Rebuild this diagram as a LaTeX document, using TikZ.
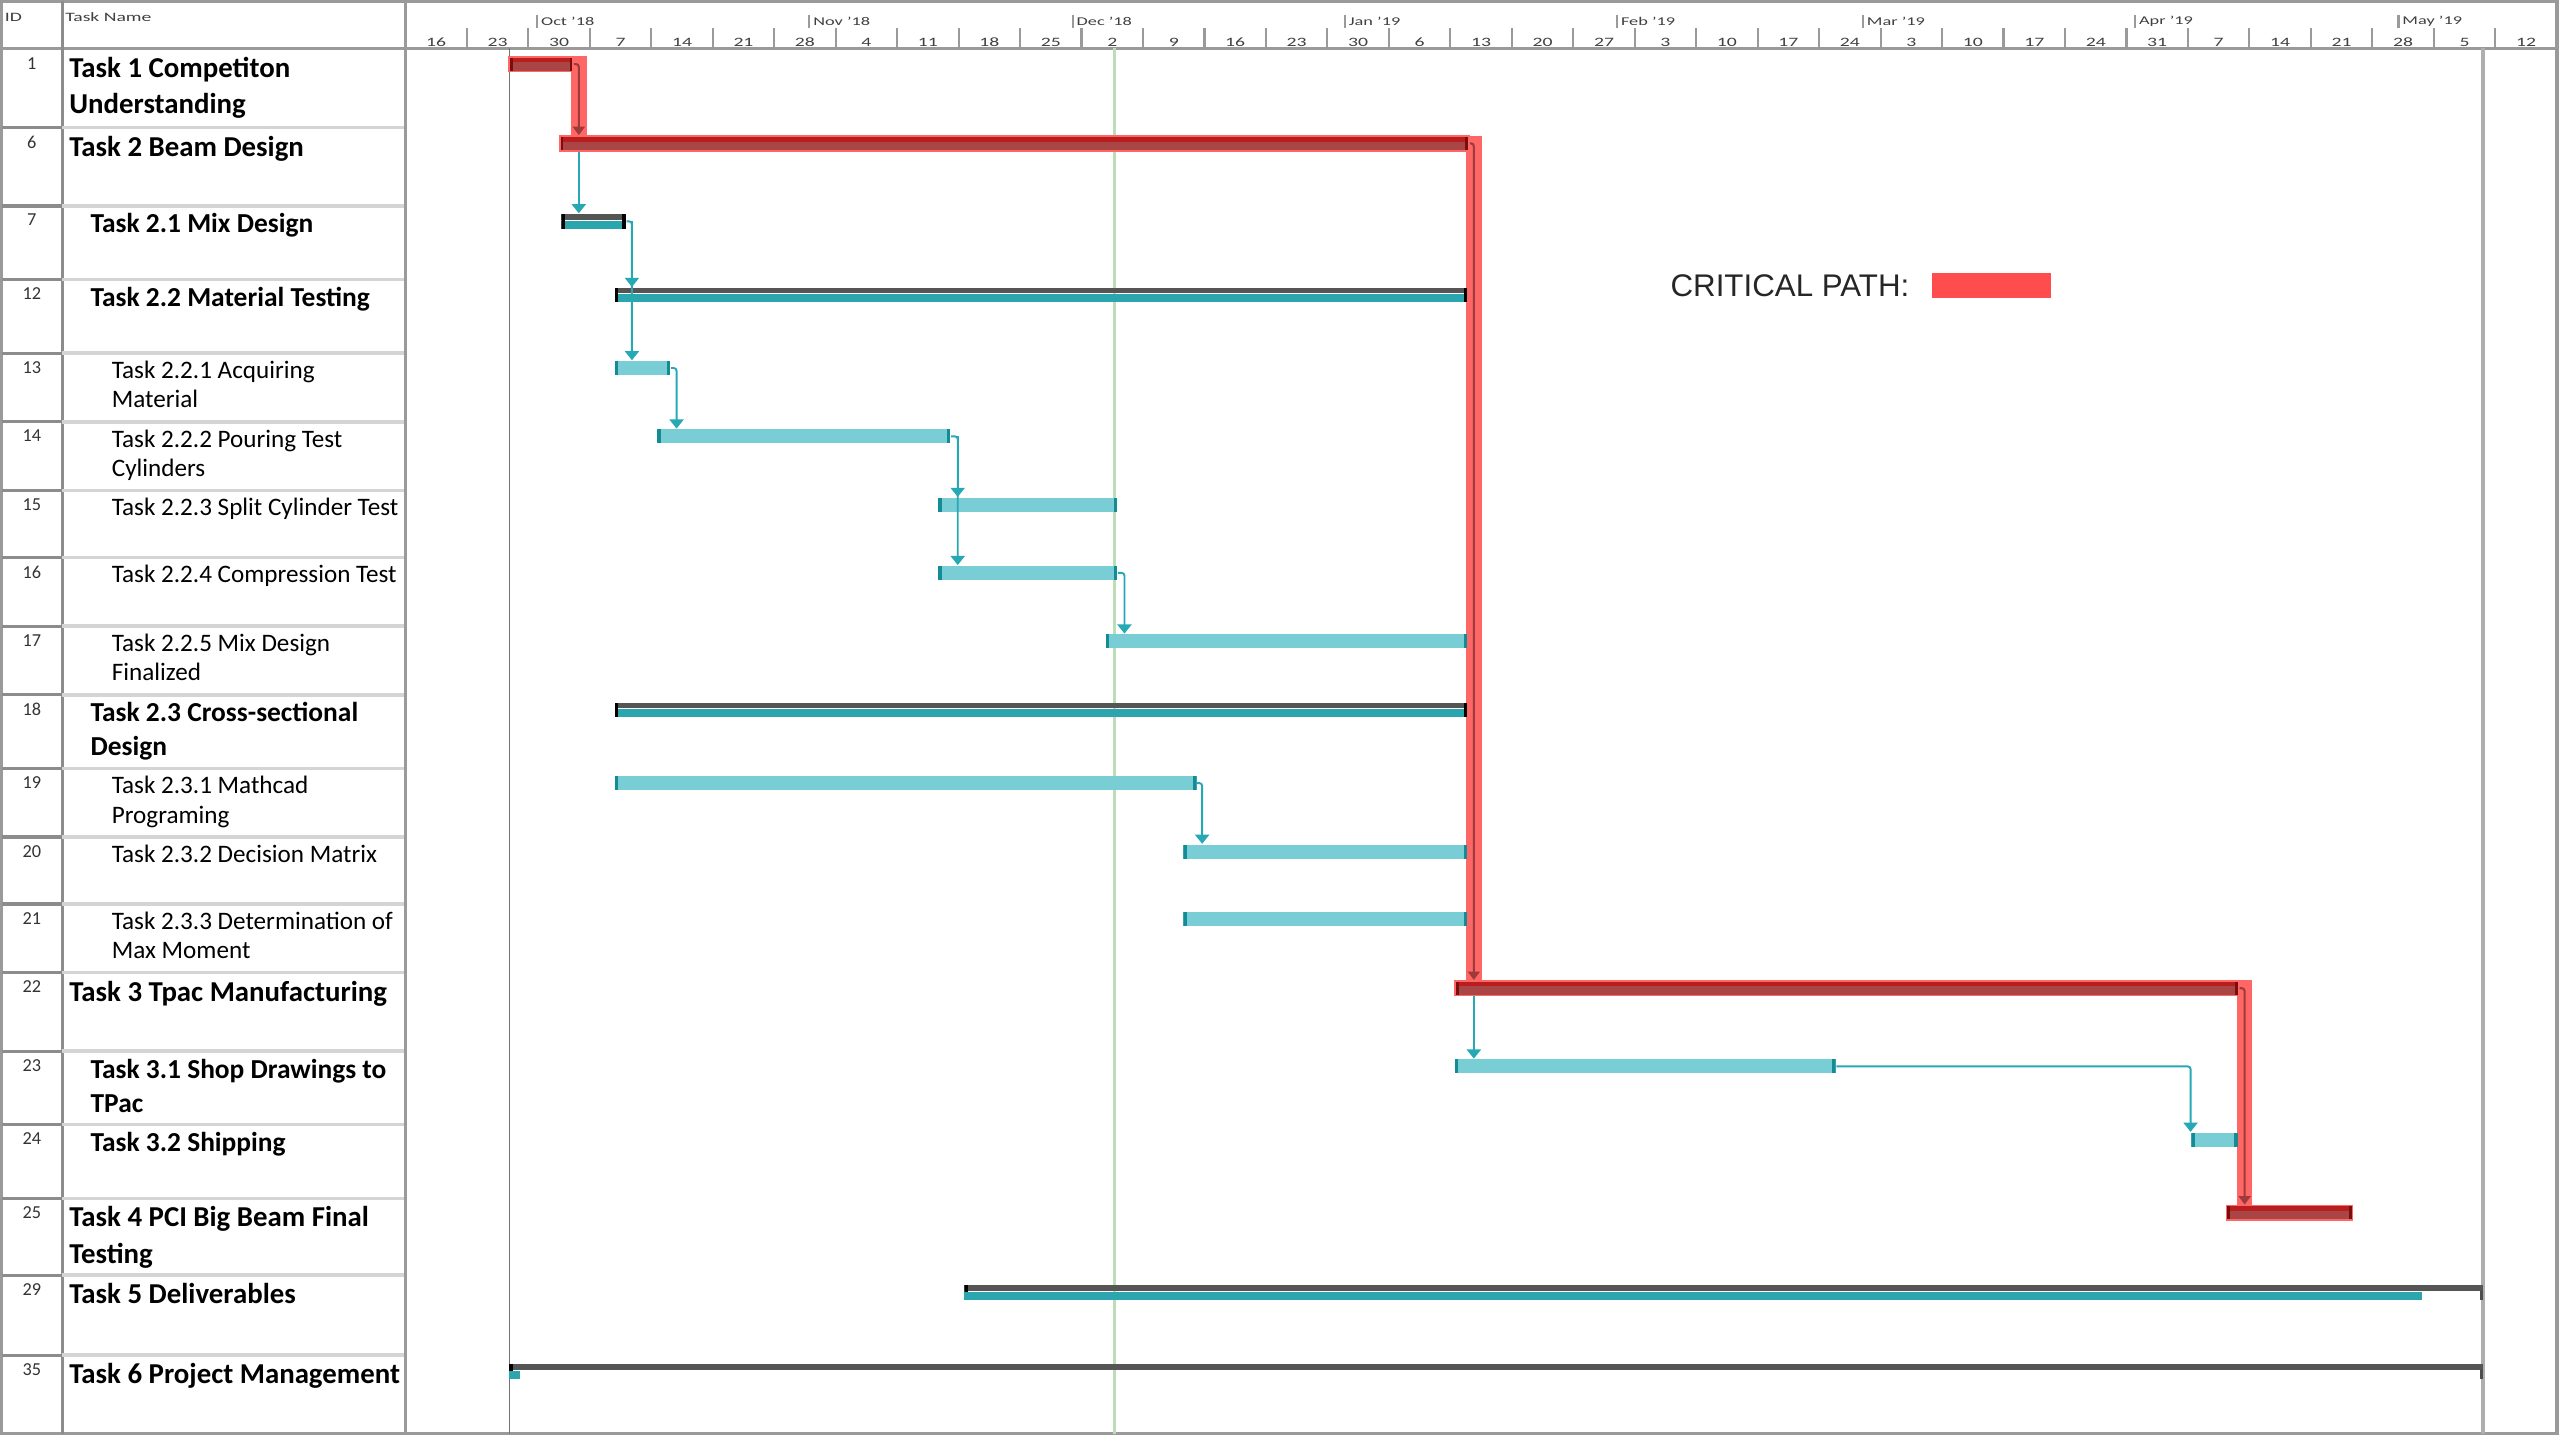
\documentclass[tikz,border=0pt]{standalone}
\usepackage{fontspec}
\setmainfont{Carlito}
\newfontfamily\legendfont{Liberation Sans}
\usepackage{xcolor}
\usepackage{graphicx}
\usepackage{tikz}
\usetikzlibrary{arrows.meta, positioning, backgrounds}

% one unit of the picture
\newcommand\gu{0.0163474cm}

\definecolor{barteal}{HTML}{79CDD4}
\definecolor{capteal}{HTML}{148C95}
\definecolor{sumteal}{HTML}{2BA6AF}
\definecolor{sumgray}{HTML}{555555}
\definecolor{linkteal}{HTML}{26A9B4}
\definecolor{critred}{HTML}{B81E1E}
\definecolor{critlow}{HTML}{A94545}
\definecolor{critcap}{HTML}{7A0E0E}
\definecolor{crithalo}{HTML}{FF6666}
\definecolor{critcore}{HTML}{9E3A3A}
\definecolor{keyred}{HTML}{FF4D4D}
\definecolor{gridgray}{HTML}{9A9A9A}
\definecolor{rowgray}{HTML}{D4D4D4}
\definecolor{todaygreen}{HTML}{BCDDB8}

\begin{document}
\begin{tikzpicture}[
    x=0.0163474cm, y=-0.0163474cm,
    hdr/.style={inner sep=0pt, text=black!75, font=\fontsize{5.6}{6}\selectfont},
    idnum/.style={anchor=north, inner sep=0pt, text=black!80, font=\fontsize{5.2}{6}\selectfont},
    tasktop/.style={anchor=north west, inner sep=0pt, align=left},
    lvlone/.style={tasktop, font=\fontsize{8.2}{10.3}\selectfont\bfseries},
    lvltwo/.style={tasktop, font=\fontsize{7.8}{9.7}\selectfont\bfseries},
    lvlthree/.style={tasktop, font=\fontsize{7.15}{8.4}\selectfont},
    frame/.style={draw=gridgray, line width=1pt},
    tick/.style={draw=gridgray, line width=0.6pt},
    idline/.style={draw=black!45, line width=0.9pt},
    rowline/.style={draw=rowgray, line width=1pt},
    taskbar/.style={
        rectangle,
        anchor=west,
        inner sep=0pt,
        minimum height=4pt,
        fill=barteal,
        path picture={
            \fill[capteal] (path picture bounding box.south west) rectangle ([xshift=1pt]path picture bounding box.north west);
            \fill[capteal] ([xshift=-1pt]path picture bounding box.south east) rectangle (path picture bounding box.north east);
        }
    },
    sumtop/.style={
        rectangle,
        anchor=west,
        inner sep=0pt,
        minimum height=4.2pt,
        path picture={
            \fill[sumgray] (path picture bounding box.north west) rectangle ([yshift=-1.6pt]path picture bounding box.north east);
            \fill[black] (path picture bounding box.south west) rectangle ([xshift=1pt]path picture bounding box.north west);
            \fill[black!70] ([xshift=-1pt]path picture bounding box.south east) rectangle ([yshift=-1.6pt]path picture bounding box.north east);
        }
    },
    sumbar/.style={
        sumtop,
        path picture={
            \fill[sumgray] (path picture bounding box.north west) rectangle ([yshift=-1.6pt]path picture bounding box.north east);
            \fill[sumteal] ([yshift=-1.9pt]path picture bounding box.north west) rectangle (path picture bounding box.south east);
            \fill[black] (path picture bounding box.south west) rectangle ([xshift=1pt]path picture bounding box.north west);
            \fill[black] ([xshift=-1pt]path picture bounding box.south east) rectangle (path picture bounding box.north east);
        }
    },
    sumdone/.style={rectangle, anchor=north west, inner sep=0pt, minimum height=2.3pt, fill=sumteal},
    critbar/.style={
        rectangle,
        anchor=west,
        inner sep=0pt,
        minimum height=4.2pt,
        fill=critlow,
        draw=crithalo,
        line width=0.5pt,
        path picture={
            \fill[critred] (path picture bounding box.north west) rectangle ([yshift=-1.6pt]path picture bounding box.north east);
            \fill[critcap] (path picture bounding box.south west) rectangle ([xshift=1pt]path picture bounding box.north west);
            \fill[critcap] ([xshift=-1pt]path picture bounding box.south east) rectangle (path picture bounding box.north east);
        }
    },
    link/.style={draw=linkteal, line width=0.55pt, rounded corners=0.8pt, -{Triangle[length=2.6pt,width=4pt]}},
    crithalo/.style={draw=crithalo, line width=4.4pt, line cap=rect},
    critcore/.style={draw=critcore, line width=0.6pt, rounded corners=0.8pt, -{Triangle[length=2.4pt,width=3.4pt]}}
]

\useasboundingbox (0,0) rectangle (1566,880.875);

% table frame and columns
\draw[frame] (1,0.8) rectangle (1564,877);
\draw[frame] (1,29.6) -- (1564,29.6);
\draw[idline] (38,0.8) -- (38,877);
\draw[frame] (248,0.8) -- (248,877);

% header
\node[hdr, anchor=west] (hid) at (2.5,10.7) {\scalebox{1}[0.65]{ID}};
\node[hdr, anchor=west] (hname) at (39.5,10.7) {\scalebox{1}[0.65]{Task Name}};
\foreach \m/\xm in {Oct '18/328.6, Nov '18/495.1, Dec '18/656.2, Jan '19/822.7, Feb '19/989.2, Mar '19/1139.6, Apr '19/1306.1, May '19/1467.2} {
    \draw[tick] (\xm,9) -- (\xm,17.3);
    \node[hdr, anchor=west, font=\fontsize{5.2}{6}\selectfont] at (\xm+2,13) {\scalebox{1}[0.65]{\m}};
}
\foreach \d [count=\k from 0] in {16,23,30,7,14,21,28,4,11,18,25,2,9,16,23,30,6,13,20,27,3,10,17,24,3,10,17,24,31,7,14,21,28,5,12} {
    \node[hdr] at (266.8+37.6*\k,25.8) {\scalebox{1}[0.65]{\d}};
    \draw[tick] (285.6+37.6*\k,17.3) -- (285.6+37.6*\k,29.6);
}

% rows
\foreach \y in {78,126,171,216,258,300,341,383,425,470,512,553,595,643,688,733,780,829} {
    \draw[rowline] (38,\y) -- (247,\y);
    \draw[idline] (1,\y) -- (38,\y);
}
\foreach \id/\top in {1/30, 6/78, 7/126, 12/171, 13/216, 14/258, 15/300, 16/341, 17/383, 18/425, 19/470, 20/512, 21/553, 22/595, 23/643, 24/688, 25/733, 29/780, 35/829}
    \node[idnum] (id\id) at (19.5,\top+4.6) {\id};

\node[lvlone] (t1) at (42,31.5) {\strut Task 1 Competiton\\Understanding};
\node[lvlone] (t6) at (42,79.5) {\strut Task 2 Beam Design};
\node[lvltwo] (t7) at (55,127.4) {\strut Task 2.1 Mix Design};
\node[lvltwo] (t12) at (55,172.4) {\strut Task 2.2 Material Testing};
\node[lvlthree] (t13) at (68,218.4) {\strut Task 2.2.1 Acquiring\\Material};
\node[lvlthree] (t14) at (68,260.4) {\strut Task 2.2.2 Pouring Test\\Cylinders};
\node[lvlthree] (t15) at (68,302.4) {\strut Task 2.2.3 Split Cylinder Test};
\node[lvlthree] (t16) at (68,343.4) {\strut Task 2.2.4 Compression Test};
\node[lvlthree] (t17) at (68,385.4) {\strut Task 2.2.5 Mix Design\\Finalized};
\node[lvltwo] (t18) at (55,426.4) {\strut Task 2.3 Cross-sectional\\Design};
\node[lvlthree] (t19) at (68,472.4) {\strut Task 2.3.1 Mathcad\\Programing};
\node[lvlthree] (t20) at (68,514.4) {\strut Task 2.3.2 Decision Matrix};
\node[lvlthree] (t21) at (68,555.4) {\strut Task 2.3.3 Determination of\\Max Moment};
\node[lvlone] (t22) at (42,596.5) {\strut Task 3 Tpac Manufacturing};
\node[lvltwo] (t23) at (55,644.4) {\strut Task 3.1 Shop Drawings to\\TPac};
\node[lvltwo] (t24) at (55,689.4) {\strut Task 3.2 Shipping};
\node[lvlone] (t25) at (42,734.5) {\strut Task 4 PCI Big Beam Final\\Testing};
\node[lvlone] (t29) at (42,781.5) {\strut Task 5 Deliverables};
\node[lvlone] (t35) at (42,830.5) {\strut Task 6 Project Management};

% project start, finish and status date
\draw[draw=black!55, line width=0.5pt] (311.7,29.6) -- (311.7,877);
\draw[draw=gridgray!80, line width=1.3pt] (1518.8,29.6) -- (1518.8,877);
\draw[draw=todaygreen, line width=0.9pt] (682,29.6) -- (682,877);

% bars
\node[critbar, minimum width={39*\gu}] (b1) at (311,39.2) {};
\node[critbar, minimum width={556*\gu}] (b6) at (342,87.7) {};
\node[sumbar, minimum width={39.5*\gu}] (b7) at (343,135.4) {};
\node[sumbar, minimum width={521.5*\gu}] (b12) at (375.5,180.5) {};
\node[taskbar, minimum width={34*\gu}] (b13) at (375.5,225.1) {};
\node[taskbar, minimum width={179.5*\gu}] (b14) at (401.5,266.9) {};
\node[taskbar, minimum width={109.5*\gu}] (b15) at (573.5,308.7) {};
\node[taskbar, minimum width={109.5*\gu}] (b16) at (573.5,350.4) {};
\node[taskbar, minimum width={221*\gu}] (b17) at (676,392.3) {};
\node[sumbar, minimum width={521.5*\gu}] (b18) at (375.5,434.3) {};
\node[taskbar, minimum width={356*\gu}] (b19) at (375.5,479) {};
\node[taskbar, minimum width={173.5*\gu}] (b20) at (723.5,520.9) {};
\node[taskbar, minimum width={173.5*\gu}] (b21) at (723.5,562.4) {};
\node[critbar, minimum width={479.5*\gu}] (b22) at (889.5,604.5) {};
\node[taskbar, minimum width={233*\gu}] (b23) at (889.5,652.3) {};
\node[taskbar, minimum width={28.5*\gu}] (b24) at (1340,697.1) {};
\node[critbar, minimum width={77*\gu}] (b25) at (1361.5,741.9) {};
\node[sumtop, minimum width={929*\gu}] (b29) at (589.5,790.5) {};
\node[sumdone, minimum width={891.5*\gu}] (b29d) at ([yshift=-1.9pt]b29.north west) {};
\node[sumtop, minimum width={1207.5*\gu}] (b35) at (311,839) {};
\node[sumdone, minimum width={6.5*\gu}] (b35d) at ([yshift=-1.9pt]b35.north west) {};

% critical path
\begin{pgfonlayer}{background}
\draw[crithalo] (b1.east) -- ++(3,0) coordinate (c1) -- (c1 |- b6.center);
\draw[crithalo] (b6.east) -- ++(2.5,0) coordinate (c2) -- (c2 |- b22.center);
\draw[crithalo] (b22.east) -- ++(3,0) coordinate (c3) -- (c3 |- b25.center);
\end{pgfonlayer}
\draw[critcore] (b1.east) -- (c1) -- (c1 |- b6.north);
\draw[critcore] (b6.east) -- (c2) -- (c2 |- b22.north);
\draw[critcore] (b22.east) -- (c3) -- (c3 |- b25.north);

% links
\draw[link] (c1 |- b6.south) -- (c1 |- b7.north);
\draw[link] (b7.east) -- ++(3.2,0) coordinate (k7) -- (k7 |- b13.north);
\draw[link] (k7) -- (k7 |- b12.north);
\draw[link] (b13.east) -- ++(3.5,0) coordinate (k13) -- (k13 |- b14.north);
\draw[link] (b14.east) -- ++(4,0) coordinate (k14) -- (k14 |- b16.north);
\draw[link] (k14) -- (k14 |- b15.north);
\draw[link] (b16.east) -- ++(4,0) coordinate (k16) -- (k16 |- b17.north);
\draw[link] (b19.east) -- ++(3,0) coordinate (k19) -- (k19 |- b20.north);
\draw[link] (c2 |- b22.south) -- (c2 |- b23.north);
\draw[link] (b23.east) -| (b24.north west);

% legend
\node[anchor=west, inner sep=0pt, text=black!85, font=\legendfont\fontsize{8.9}{10}\selectfont] (critlabel) at (1021.5,174.5) {CRITICAL PATH:};
\node[rectangle, fill=keyred, inner sep=0pt, minimum width={73*\gu}, minimum height={15*\gu}, right=6pt of critlabel] (critkey) {};

\end{tikzpicture}
\end{document}
